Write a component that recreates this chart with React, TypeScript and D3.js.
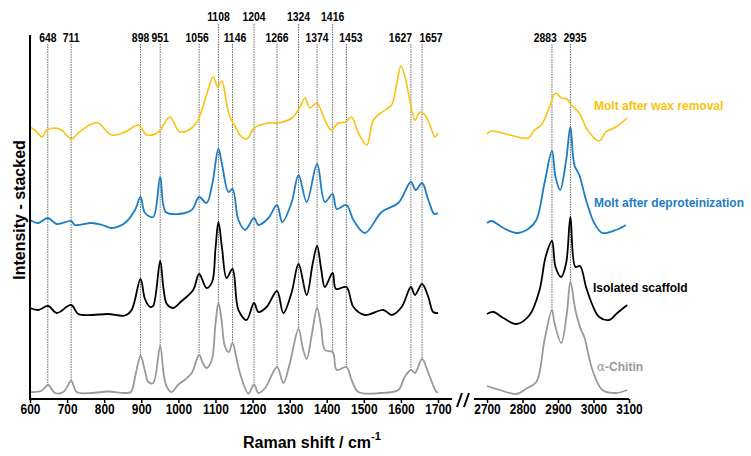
import { useEffect, useRef } from "react";
import * as d3 from "d3";

// stacked Raman spectra, two x ranges with a break
// intensity is arbitrary (stacked) units

type Pt = [number, number];

const chitinLow: Pt[] = [
  [600, 7], [630, 8], [649, 14], [667, 6], [690, 7], [711, 18], [726, 7], [767, 6], [810, 7.5], [856, 6],
  [872, 7], [885, 25], [898, 43], [910, 28], [919, 17], [932, 16], [951, 53], [960, 26], [969, 12], [982, 7],
  [999, 14], [1020, 20], [1036, 26], [1056, 44], [1066, 36], [1076, 31], [1090, 39], [1100, 75], [1108, 96],
  [1116, 80], [1126, 52], [1136, 47], [1146, 56], [1156, 42], [1166, 26], [1189, 5.5], [1204, 14.5], [1216, 6],
  [1234, 11], [1266, 32], [1283, 16], [1300, 35], [1324, 70], [1336, 50], [1346, 40], [1360, 65], [1374, 91],
  [1385, 72], [1395, 49], [1416, 47], [1427, 29], [1453, 32], [1467, 19], [1485, 7], [1544, 6], [1593, 9],
  [1610, 22], [1627, 29], [1638, 26], [1657, 40], [1674, 26], [1696, 7], [1700, 7],
];
const chitinHigh: Pt[] = [
  [2700, 13], [2736, 9], [2783, 5], [2811, 10.5], [2839, 17], [2862, 59], [2883, 89], [2890, 76],
  [2909, 56], [2925, 86], [2935, 117], [2949, 89], [2965, 69], [2974, 62], [2997, 29], [3025, 9],
  [3063, 6], [3095, 9],
];

const scaffoldLow: Pt[] = [
  [600, 91], [622, 89], [649, 93], [672, 86], [711, 94], [730, 85], [767, 84], [810, 85], [856, 83.5],
  [874, 89], [898, 120], [910, 100], [924, 92], [932, 93], [951, 138], [960, 110], [969, 95], [986, 91],
  [1009, 98], [1040, 109], [1056, 125], [1076, 111], [1091, 117], [1100, 150], [1108, 177], [1118, 150],
  [1130, 121], [1146, 130], [1162, 89], [1184, 79], [1204, 96], [1216, 87], [1238, 92], [1266, 108],
  [1283, 86], [1305, 106], [1324, 135], [1346, 104], [1362, 135], [1374, 153], [1385, 130], [1395, 112],
  [1416, 126], [1425, 110], [1453, 112], [1472, 92], [1503, 84], [1553, 89], [1575, 84], [1602, 92],
  [1627, 112], [1638, 104], [1657, 115], [1674, 102], [1687, 87], [1700, 86],
];
const scaffoldHigh: Pt[] = [
  [2700, 85], [2718, 87], [2746, 81], [2783, 75], [2820, 84], [2848, 109], [2865, 142], [2883, 158],
  [2893, 132], [2909, 122], [2923, 136], [2935, 182], [2949, 132], [2962, 133], [2979, 112], [2997, 94],
  [3016, 82], [3044, 79], [3067, 86], [3095, 94],
];

const deprotLow: Pt[] = [
  [600, 179], [622, 176], [648, 181], [672, 175], [711, 178], [721, 174], [766, 176], [795, 174],
  [820, 171], [856, 176], [883, 189], [898, 202], [910, 186], [932, 182], [951, 222], [966, 187],
  [1000, 185], [1036, 189], [1056, 202], [1076, 196], [1091, 214], [1108, 250], [1118, 234], [1135, 207],
  [1146, 210], [1162, 179], [1180, 169], [1204, 181], [1216, 174], [1243, 181], [1266, 194], [1280, 177],
  [1305, 196], [1324, 224], [1346, 197], [1374, 235], [1395, 197], [1416, 205], [1427, 190], [1453, 194],
  [1472, 179], [1503, 166], [1548, 187], [1593, 196], [1627, 217], [1640, 209], [1657, 216], [1674, 199],
  [1690, 185], [1700, 186],
];
const deprotHigh: Pt[] = [
  [2700, 176], [2713, 178], [2746, 171], [2783, 166], [2816, 170], [2839, 179], [2862, 216], [2883, 248],
  [2893, 222], [2906, 209], [2923, 239], [2935, 272], [2946, 234], [2960, 224], [2979, 199], [3002, 176],
  [3025, 166], [3063, 169], [3091, 174],
];

const waxLow: Pt[] = [
  [600, 272], [613, 269], [633, 262], [645, 269], [667, 271], [685, 269], [712, 260], [730, 266],
  [766, 275], [784, 276], [820, 264], [856, 267], [892, 274], [915, 264], [946, 267], [977, 282],
  [1004, 267], [1036, 271], [1054, 280], [1076, 304], [1094, 322], [1106, 312], [1117, 318], [1130, 296],
  [1139, 282], [1151, 274], [1166, 264], [1184, 260], [1205, 271], [1242, 276], [1269, 276], [1306, 281],
  [1328, 292], [1341, 301], [1355, 291], [1373, 296], [1395, 279], [1412, 269], [1431, 276], [1451, 277],
  [1467, 282], [1485, 266], [1508, 254], [1526, 279], [1557, 289], [1575, 294], [1589, 316], [1600, 333],
  [1611, 322], [1624, 299], [1638, 279], [1651, 287], [1665, 284], [1678, 274], [1692, 262], [1700, 266],
];
const waxHigh: Pt[] = [
  [2700, 265], [2713, 268], [2764, 264], [2816, 261], [2834, 269], [2853, 274], [2876, 292], [2893, 306],
  [2909, 301], [2925, 300], [2937, 294], [2960, 286], [2983, 269], [3016, 258], [3035, 267], [3063, 272],
  [3095, 281],
];

const lowTicks = [600, 700, 800, 900, 1000, 1100, 1200, 1300, 1400, 1500, 1600, 1700];
const highTicks = [2700, 2800, 2900, 3000, 3100];
const peaksLow = [648, 711, 898, 951, 1056, 1108, 1146, 1204, 1266, 1324, 1374, 1416, 1453, 1627, 1657];
const peaksHigh = [2883, 2935];
const raisedPeaks = [1108, 1204, 1324, 1416];
const seriesNames = ["Molt after wax removal", "Molt after deproteinization", "Isolated scaffold", "\u03b1-Chitin"];

const W = 751;
const H = 456;
const font = "'Liberation Sans', Arial, sans-serif";

// nudges so close labels don't collide
const labelDx: Record<number, number> = { 1056: -2, 1146: 2.4, 1453: 4.5, 1627: -10.5, 1657: 9, 2883: -6.7, 2935: 4.6 };

function valueAt(series: Pt[], w: number) {
  const i = d3.bisector((d: Pt) => d[0]).left(series, w);
  if (i <= 0) return series[0][1];
  if (i >= series.length) return series[series.length - 1][1];
  const [x0, y0] = series[i - 1];
  const [x1, y1] = series[i];
  return y0 + ((w - x0) / (x1 - x0)) * (y1 - y0);
}

// greek letter in serif, like the original symbol font
function SeriesLabel({ name }: { name: string }) {
  if (name.startsWith("\u03b1")) {
    return (
      <>
        <tspan fontFamily="'DejaVu Serif', serif" fontWeight="normal">{name[0]}</tspan>
        {name.slice(1)}
      </>
    );
  }
  return <>{name}</>;
}

export default function App() {
  const gx1 = useRef<SVGGElement>(null);
  const gx2 = useRef<SVGGElement>(null);

  const x1 = d3.scaleLinear([600, 1700], [30, 438]);
  const x2 = d3.scaleLinear([2700, 3100], [487, 629]);
  const y = d3.scaleLinear([0, 364], [399, 35]);

  const curve = d3.curveCatmullRom.alpha(0.5);
  const lineLow = d3.line<Pt>((d) => x1(d[0]), (d) => y(d[1])).curve(curve);
  const lineHigh = d3.line<Pt>((d) => x2(d[0]), (d) => y(d[1])).curve(curve);

  const series = [
    { name: seriesNames[0], low: waxLow, high: waxHigh, color: "#FBC10E", labelX: 594, labelY: 110, sw: 1.6 },
    { name: seriesNames[1], low: deprotLow, high: deprotHigh, color: "#1B7DC4", labelX: 594, labelY: 207, sw: 1.8 },
    { name: seriesNames[2], low: scaffoldLow, high: scaffoldHigh, color: "#000000", labelX: 593, labelY: 292, sw: 1.8 },
    { name: seriesNames[3], low: chitinLow, high: chitinHigh, color: "#999999", labelX: 597, labelY: 371, sw: 1.8 },
  ];

  useEffect(() => {
    const style = (g: d3.Selection<SVGGElement, unknown, null, undefined>) => {
      g.attr("font-family", font).attr("font-size", 14.5);
      g.select(".domain").remove();
      g.selectAll("line").attr("stroke-width", 1.5);
      g.selectAll("text").attr("font-weight", "bold").attr("fill", "#000").attr("transform", "scale(0.82,1)");
    };
    d3.select(gx1.current!)
      .call(d3.axisBottom(x1).tickValues(lowTicks).tickSize(4).tickPadding(1).tickFormat(d3.format("d")))
      .call(style);
    d3.select(gx2.current!)
      .call(d3.axisBottom(x2).tickValues(highTicks).tickSize(4).tickPadding(1).tickFormat(d3.format("d")))
      .call(style);
  }, []);

  const peakMarks = [
    ...peaksLow.map((p) => ({ p, x: x1(p), bottom: y(valueAt(chitinLow, p)) })),
    ...peaksHigh.map((p) => ({ p, x: x2(p), bottom: y(valueAt(chitinHigh, p)) })),
  ];

  return (
    <svg width={W} height={H} style={{ position: "absolute", left: 0, top: 0, background: "#fff" }}>
      {/* dashed peak guides */}
      {peakMarks.map(({ p, x, bottom }) => {
        const raised = raisedPeaks.includes(p);
        return (
          <g key={p}>
            <line x1={x} x2={x} y1={raised ? 24 : 44} y2={bottom} stroke="#444" strokeWidth={0.8} strokeDasharray="1.5,1" />
            <text
              transform={`translate(${x + (labelDx[p] || 0)},${raised ? 21 : 42}) scale(0.8,1)`}
              textAnchor="middle"
              fontFamily={font}
              fontWeight="bold"
              fontSize={13}
            >
              {p}
            </text>
          </g>
        );
      })}

      {series.map((s) => (
        <g key={s.name}>
          <path d={lineLow(s.low) || ""} fill="none" stroke={s.color} strokeWidth={s.sw} strokeLinejoin="round" />
          <path d={lineHigh(s.high) || ""} fill="none" stroke={s.color} strokeWidth={s.sw} strokeLinejoin="round" />
          <text x={s.labelX} y={s.labelY} fill={s.color} fontFamily={font} fontWeight="bold" fontSize={12}>
            <SeriesLabel name={s.name} />
          </text>
        </g>
      ))}

      {/* axes */}
      <line x1={x1(600)} x2={x1(600)} y1={y(364)} y2={y(0)} stroke="#000" strokeWidth={2} />
      <line x1={x1(600) - 1} x2={x1(1738)} y1={y(0)} y2={y(0)} stroke="#000" strokeWidth={2} />
      <line x1={x2(2663)} x2={x2(3100)} y1={y(0)} y2={y(0)} stroke="#000" strokeWidth={2} />
      <g ref={gx1} transform={`translate(0,${y(0)})`} />
      <g ref={gx2} transform={`translate(0,${y(0)})`} />

      {/* axis break */}
      <line x1={457} y1={407} x2={462} y2={393} stroke="#000" strokeWidth={2} />
      <line x1={464} y1={407} x2={469} y2={393} stroke="#000" strokeWidth={2} />

      <text x={243} y={448} fontFamily={font} fontWeight="bold" fontSize={16}>
        Raman shift / cm
        <tspan fontSize={11} dy={-8}>-1</tspan>
      </text>
      <text transform="translate(25,210) rotate(-90)" textAnchor="middle" fontFamily={font} fontWeight="bold" fontSize={16}>
        Intensity - stacked
      </text>
    </svg>
  );
}
